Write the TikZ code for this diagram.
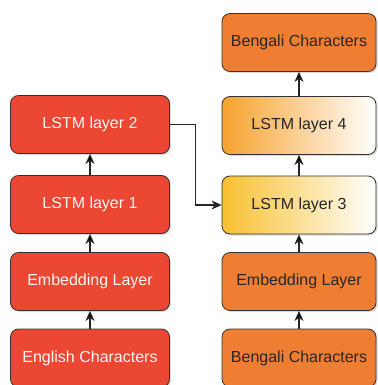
\documentclass[tikz,border=0pt]{standalone}
\usepackage{fontspec}
\setmainfont{Liberation Sans}
\usepackage{xcolor}
\usetikzlibrary{arrows, arrows.meta, shadows, positioning}

\definecolor{encred}{RGB}{235,71,50}
\definecolor{decorange}{RGB}{239,126,50}
\definecolor{lstmyellow}{RGB}{247,192,48}
\definecolor{lstmorange}{RGB}{245,162,46}
\definecolor{boxline}{RGB}{50,50,50}

\tikzset{
    layer/.style={draw=boxline, line width=0.8pt, rounded corners=8pt,
        minimum height=58pt, font=\fontsize{16}{18}\selectfont,
        drop shadow={opacity=0.3, shadow xshift=1.5pt, shadow yshift=-1.5pt}},
    enc/.style={layer, fill=encred, text=white!95!encred, minimum width=159pt},
    dec/.style={layer, fill=decorange, text=black!85, minimum width=154pt},
    lstmdec/.style={layer, text=black!85, minimum width=154pt},
    flow/.style={draw=black!85, line width=1.1pt, -{Stealth[length=10pt, width=9pt, inset=3pt]}}
}

\begin{document}
\begin{tikzpicture}[x=1pt, y=-1pt]
                        \useasboundingbox (0,0) rectangle (377,385);
                        \node[enc] (engin) at (90, 358) {English Characters};
                        \node[enc] (engemb) at (90, 281.5) {Embedding Layer};
                        \node[enc] (lstma) at (90, 204.5) {LSTM layer 1};
                        \node[enc] (lstmb) at (90, 124.5) {LSTM layer 2};
                        \node[dec] (bnin) at (299, 358) {Bengali Characters};
                        \node[dec] (bnemb) at (299, 281.5) {Embedding Layer};
                        \node[lstmdec, left color=lstmyellow, right color=white] (lstmc) at (299, 205) {LSTM layer 3};
                        \node[lstmdec, left color=lstmorange, right color=white] (lstmd) at (299, 125.5) {LSTM layer 4};
                        \node[dec] (bnout) at (299, 42.5) {Bengali Characters};
                        \draw[flow]
                        (engin) edge (engemb)
                        (engemb) edge (lstma)
                        (lstma) edge (lstmb)
                        (bnin) edge (bnemb)
                        (bnemb) edge (lstmc)
                        (lstmc) edge (lstmd)
                        (lstmd) edge (bnout);
                        \draw[flow] (lstmb.east) -- ++(26,0) |- (lstmc.west);
                    \end{tikzpicture}
\end{document}
